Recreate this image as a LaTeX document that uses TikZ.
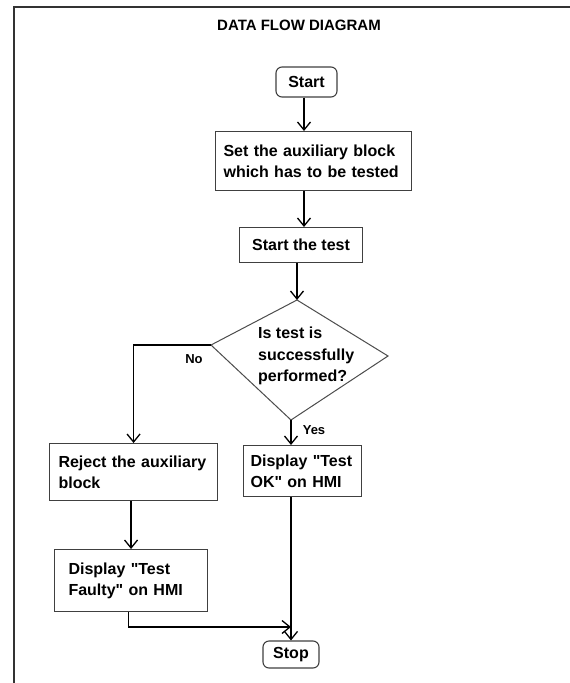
\documentclass[tikz,border=0pt]{standalone}
\usepackage{fontspec}
\setmainfont{Liberation Sans}
\usetikzlibrary{arrows.meta}
\begin{document}
\begin{tikzpicture}[x=1pt,y=-1pt,
  box/.style={draw=black!75, line width=1.1pt, font=\fontsize{16}{21}\selectfont\bfseries, anchor=north west, align=left, inner ysep=0pt},
  term/.style={draw=black!75, line width=1.1pt, font=\fontsize{16}{21}\selectfont\bfseries, rounded corners=6pt, align=center, inner sep=0pt},
  conn/.style={line width=1.5pt, black},
  arr/.style={conn, -{Straight Barb[length=8pt,width=13pt,line width=1.3pt]}},
  lbl/.style={font=\fontsize{13}{15}\selectfont\bfseries, inner sep=0pt},
  frame/.style={line width=2pt, black!80}]
\useasboundingbox (0,0) rectangle (570,683);
\fill[white] (0,0) rectangle (570,683);
\draw[frame] (14,684) -- (14,7) -- (571,7);

\node[font=\fontsize{15}{18}\selectfont\bfseries, inner sep=0pt] (title) at (299,25) {DATA FLOW DIAGRAM};

\node[term, minimum width=61pt, minimum height=30pt] (start) at (306.5,82) {Start};
\node[box, inner xsep=8pt, text width=180pt, minimum height=59pt] (set) at (215,131) {Set the auxiliary block\\which has to be tested};
\node[box, align=center, inner xsep=0pt, minimum width=123pt, minimum height=35pt] (test) at (239,227) {Start the test};

\coordinate (dtop) at (297,300);
\coordinate (dright) at (388,356);
\coordinate (dbot) at (291,420);
\coordinate (dleft) at (211,345);
\draw[draw=black!70, line width=1pt] (dtop) -- (dright) -- (dbot) -- (dleft) -- cycle;
\node[font=\fontsize{16}{21.5}\selectfont\bfseries, align=left, anchor=west, inner sep=0pt] (q) at (258,356) {Is test is\\successfully\\performed?};

\node[box, inner xsep=9pt, text width=150pt, minimum height=57pt] (reject) at (49,443) {Reject the auxiliary\\block};
\node[box, inner xsep=7pt, text width=104pt, minimum height=51pt] (testok) at (243,445) {Display~\textquotedbl Test\\OK\textquotedbl{} on HMI};
\node[box, inner xsep=14pt, text width=125pt, minimum height=62pt] (faulty) at (54,549) {Display \textquotedbl Test\\Faulty\textquotedbl{} on HMI};
\node[term, minimum width=56pt, minimum height=27pt] (stop) at (291,654.5) {Stop};

\node[lbl] (no) at (194,359) {No};
\node[lbl] (yes) at (314,430) {Yes};

\draw[arr] ([xshift=-2.5pt]start.south) -- ([xshift=-2.5pt]start.south |- set.north);
\draw[arr] ([xshift=-2.5pt]start.south |- set.south) -- ([xshift=-2.5pt]start.south |- test.north);
\draw[arr] (dtop |- test.south) -- (dtop);
\draw[arr] (dleft) -| (reject.north);
\draw[arr] (dbot) -- (dbot |- testok.north);
\draw[arr] (faulty.north |- reject.south) -- (faulty.north);
\coordinate (joinrow) at (0,627);
\coordinate (join) at (stop.north |- joinrow);
\draw[arr] ([xshift=-2.5pt]faulty.south) |- (join);
\draw[arr] (stop.north |- testok.south) -- (stop.north);
\end{tikzpicture}
\end{document}
